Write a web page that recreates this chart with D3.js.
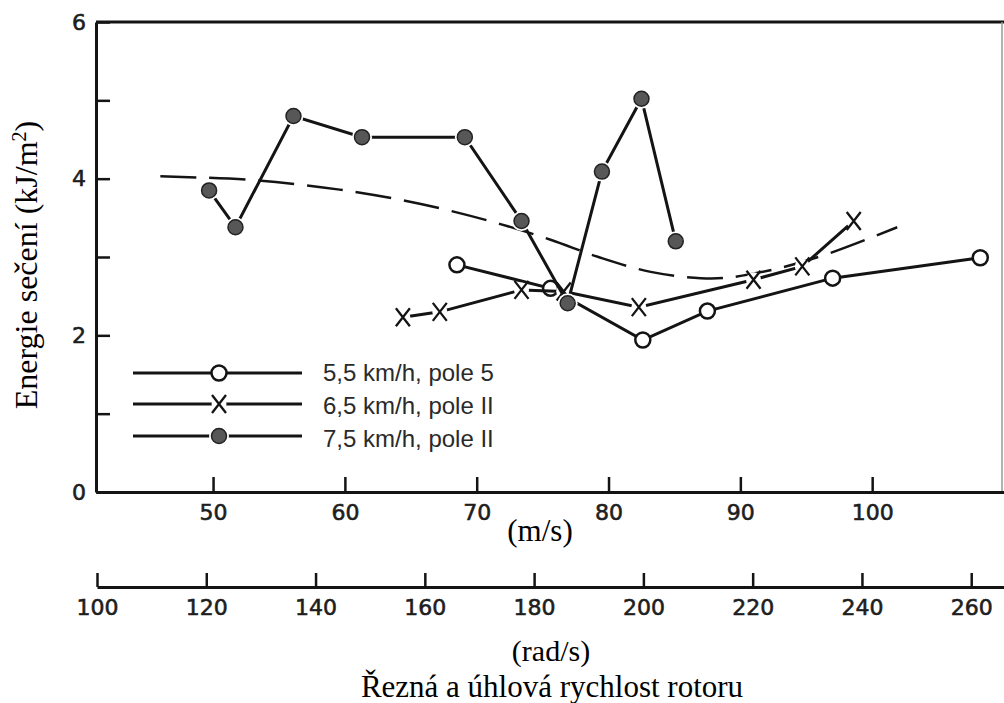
<!DOCTYPE html>
<html>
<head>
<meta charset="utf-8">
<script src="https://cdn.jsdelivr.net/npm/d3@7"></script>
<style>
body{margin:0;background:#fff;}
svg{display:block;}
</style>
</head>
<body>
<div id="chart"></div>
<script>
// rychlost (m/s) a energie (kJ/m2)
var speed55 = [68.5, 75.6, 82.6, 87.5, 97.0, 108.2];
var energy55 = [2.90, 2.60, 1.94, 2.31, 2.73, 2.99];

var speed65 = [64.4, 67.2, 73.4, 76.6, 82.3, 91.0, 94.7, 98.6];
var energy65 = [2.23, 2.30, 2.58, 2.56, 2.36, 2.71, 2.88, 3.46];

var speed75 = [49.7, 51.7, 56.1, 61.3, 69.1, 73.4, 76.9, 79.5, 82.5, 85.1];
var energy75 = [3.85, 3.38, 4.80, 4.53, 4.53, 3.46, 2.41, 4.09, 5.02, 3.20];

var speedTrend = [46.0, 53.2, 59.6, 64.2, 68.0, 71.8, 75.6, 79.4, 83.2, 87.0, 89.2, 93.0, 96.8, 101.9];
var energyTrend = [4.03, 3.98, 3.86, 3.73, 3.59, 3.42, 3.22, 2.99, 2.81, 2.73, 2.74, 2.86, 3.05, 3.38];

var energyTicks = [0, 1, 2, 3, 4, 5, 6];
var speedTicks = [50, 60, 70, 80, 90, 100];
var radTicks = [100, 120, 140, 160, 180, 200, 220, 240, 260];

var legendLabels = ["5,5 km/h, pole 5", "6,5 km/h, pole II", "7,5 km/h, pole II"];
var legendMarks = ["open", "cross", "dot"];

var svg = d3.select("#chart")
            .append("svg")
            .attr("width", 1004)
            .attr("height", 703);

var x = d3.scaleLinear().domain([41.12, 110]).range([96, 1004]);
var y = d3.scaleLinear().domain([0, 6]).range([492, 22]);
var rad = d3.scaleLinear().domain([100, 266]).range([97, 1004]);

var ink = "#141414";

// ramecek nahore a vpravo
svg.append("line")
   .attr("x1", x(41.12)).attr("x2", 1004)
   .attr("y1", y(6)).attr("y2", y(6))
   .attr("stroke", ink).attr("stroke-width", 3);
svg.append("line")
   .attr("x1", 1002).attr("x2", 1002)
   .attr("y1", y(6)).attr("y2", y(0))
   .attr("stroke", "#9a9a9a").attr("stroke-width", 1.5);

function styleAxis(g){
  g.select(".domain").attr("stroke", ink).attr("stroke-width", 3);
  g.selectAll(".tick line").attr("stroke", ink).attr("stroke-width", 2.5);
  g.selectAll(".tick text")
   .attr("fill", "#1e1e1e")
   .attr("stroke", "#1e1e1e")
   .attr("stroke-width", 0.6)
   .attr("font-family", "DejaVu Sans, sans-serif")
   .attr("font-size", 22);
}

var yAxis = d3.axisLeft(y)
              .tickValues(energyTicks)
              .tickSize(-14)
              .tickSizeOuter(0)
              .tickPadding(10)
              .tickFormat(function(d){ return d % 2 === 0 ? d : ""; });
svg.append("g").attr("transform", "translate(96,0)").call(yAxis).call(styleAxis);

var xAxis = d3.axisBottom(x)
              .tickValues(speedTicks)
              .tickSize(-15)
              .tickSizeOuter(0)
              .tickPadding(12);
svg.append("g").attr("transform", "translate(0,492)").call(xAxis).call(styleAxis);

var radAxis = d3.axisBottom(rad)
                .tickValues(radTicks)
                .tickSize(-14)
                .tickSizeOuter(0)
                .tickPadding(12);
svg.append("g").attr("transform", "translate(0,587)").call(radAxis).call(styleAxis);

// popisky os
svg.append("text")
   .attr("transform", "translate(37,265) rotate(-90)")
   .attr("text-anchor", "middle")
   .attr("font-family", "Liberation Serif, serif")
   .attr("font-size", 32)
   .attr("fill", "#000")
   .text("Energie sečení (kJ/m")
   .append("tspan").attr("baseline-shift", "super").attr("font-size", 20).text("2")
   .select(function(){ return this.parentNode; })
   .append("tspan").text(")");

svg.append("text").attr("x", 540).attr("y", 541).attr("text-anchor", "middle")
   .attr("font-family", "Liberation Serif, serif").attr("font-size", 31).text("(m/s)");
svg.append("text").attr("x", 551).attr("y", 661).attr("text-anchor", "middle")
   .attr("font-family", "Liberation Serif, serif").attr("font-size", 30).text("(rad/s)");
svg.append("text").attr("x", 552).attr("y", 697).attr("text-anchor", "middle")
   .attr("font-family", "Liberation Serif, serif").attr("font-size", 31).text("Řezná a úhlová rychlost rotoru");

// prerusovana krivka
var trend = speedTrend.map(function(s, i){ return [s, energyTrend[i]]; });
var curve = d3.line()
              .x(function(d){ return x(d[0]); })
              .y(function(d){ return y(d[1]); })
              .curve(d3.curveCatmullRom);
svg.append("path")
   .attr("d", curve(trend))
   .attr("fill", "none")
   .attr("stroke", ink)
   .attr("stroke-width", 2.5)
   .attr("stroke-dasharray", "36,13");

var lineFunction = d3.line()
                     .x(function(d){ return x(d[0]); })
                     .y(function(d){ return y(d[1]); });

function drawMark(g, kind, px, py){
  if(kind === "open"){
    g.append("circle").attr("cx", px).attr("cy", py).attr("r", 7.5)
     .attr("fill", "#fff").attr("stroke", ink).attr("stroke-width", 2.5);
  }else if(kind === "dot"){
    g.append("circle").attr("cx", px).attr("cy", py).attr("r", 10).attr("fill", "#fff");
    g.append("circle").attr("cx", px).attr("cy", py).attr("r", 7.5)
     .attr("fill", "#575757").attr("stroke", "#222").attr("stroke-width", 1.5);
  }else{
    g.append("circle").attr("cx", px).attr("cy", py).attr("r", 7.5).attr("fill", "#fff");
    g.append("path")
     .attr("d", "M" + (px - 7) + "," + (py - 9) + "L" + (px + 7) + "," + (py + 9) +
                "M" + (px + 7) + "," + (py - 9) + "L" + (px - 7) + "," + (py + 9))
     .attr("stroke", ink).attr("stroke-width", 2.3).attr("fill", "none");
  }
}

var series = [
  {sp: speed55, en: energy55, kind: "open"},
  {sp: speed65, en: energy65, kind: "cross"},
  {sp: speed75, en: energy75, kind: "dot"}
];

for(var i = 0; i < series.length; i++){
  var s = series[i];
  var pts = s.sp.map(function(v, k){ return [v, s.en[k]]; });
  var g = svg.append("g");
  g.append("path")
   .attr("d", lineFunction(pts))
   .attr("fill", "none")
   .attr("stroke", ink)
   .attr("stroke-width", 3);
  for(var j = 0; j < pts.length; j++){
    drawMark(g, s.kind, x(pts[j][0]), y(pts[j][1]));
  }
}

// legenda
var legendY = [373, 404, 436];
for(var i = 0; i < legendLabels.length; i++){
  var lg = svg.append("g");
  lg.append("line").attr("x1", 133).attr("x2", 302)
    .attr("y1", legendY[i]).attr("y2", legendY[i])
    .attr("stroke", ink).attr("stroke-width", 3);
  drawMark(lg, legendMarks[i], 219, legendY[i]);
  lg.append("text")
    .attr("x", 323).attr("y", legendY[i] + 8 + i * 1.5)
    .attr("font-family", "Liberation Sans, Arial, sans-serif")
    .attr("font-size", 24)
    .attr("fill", "#2a2a2a")
    .text(legendLabels[i]);
}
</script>
</body>
</html>
